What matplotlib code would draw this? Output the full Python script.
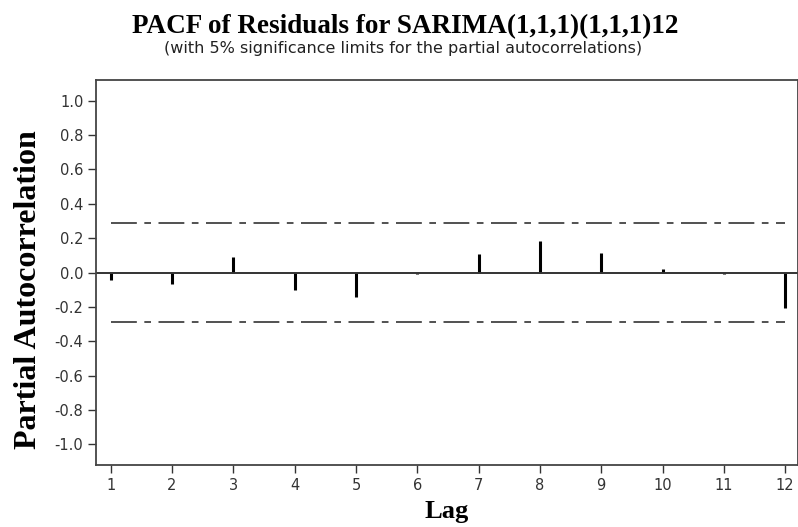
import matplotlib.pyplot as plt
import numpy as np

lags = [1, 2, 3, 4, 5, 6, 7, 8, 9, 10, 11, 12]
pacf = [-0.045, -0.068, 0.091, -0.100, -0.140, -0.008, 0.108, 0.186, 0.116, 0.018, -0.006, -0.205]
sig_limit = 0.29
yticks = [-1.0, -0.8, -0.6, -0.4, -0.2, 0.0, 0.2, 0.4, 0.6, 0.8, 1.0]

fig = plt.figure(figsize=(7.98, 5.27), dpi=100)
ax = fig.add_axes([0.1203, 0.1176, 0.8797, 0.7304])

ax.vlines(lags, 0, pacf, colors="black", linewidth=2.2)
ax.axhline(0, color="#333333", linewidth=1.4)
# significance limits only run from the first to the last lag
ax.plot([lags[0], lags[-1]], [sig_limit, sig_limit], color="#333333", linewidth=1.2, dashes=(15.5, 4.5, 4, 4.5))
ax.plot([lags[0], lags[-1]], [-sig_limit, -sig_limit], color="#333333", linewidth=1.2, dashes=(15.5, 4.5, 4, 4.5))

ax.set_xlim(0.76, 12.21)
ax.set_ylim(-1.12, 1.12)
ax.set_xticks(lags)
ax.set_yticks(yticks)
ax.set_yticklabels(["%.1f" % v for v in yticks])
ax.tick_params(direction="out", length=6, width=1, labelsize=10.5, colors="#333333", pad=3)
for side in ["left", "bottom", "top", "right"]:
    ax.spines[side].set_color("#444444")
    ax.spines[side].set_linewidth(1.3)

fig.text(29 / 798, 1 - 290 / 527, "Partial Autocorrelation", rotation=90, ha="center", va="center",
         family="Liberation Serif", fontweight="bold", fontsize=23)
fig.text(447 / 798, 1 - 518 / 527, "Lag", ha="center", va="baseline",
         family="Liberation Serif", fontweight="bold", fontsize=19)

fig.text(405 / 798, 1 - 33 / 527, "PACF of Residuals for SARIMA(1,1,1)(1,1,1)12", ha="center", va="baseline",
         family="Liberation Serif", fontweight="bold", fontsize=19.5)
fig.text(403 / 798, 1 - 53 / 527, "(with 5% significance limits for the partial autocorrelations)", ha="center",
         va="baseline", fontsize=11.5, color="#222222")

fig.savefig("out.png", dpi=100)
